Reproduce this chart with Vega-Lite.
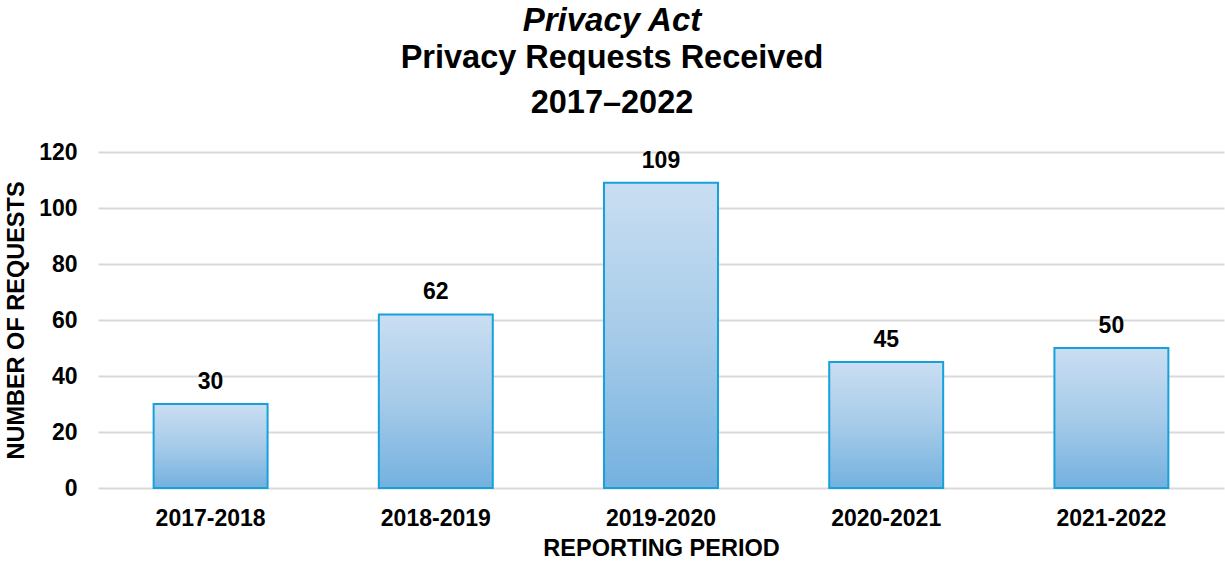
{
  "$schema": "https://vega.github.io/schema/vega-lite/v6.json",
  "width": 1126,
  "height": 336,
  "autosize": {"type": "none"},
  "padding": {"left": 98, "top": 152, "right": 1, "bottom": 73},
  "background": "white",
  "title": {
    "text": "Privacy Act",
    "subtitle": ["Privacy Requests Received", "2017–2022"],
    "anchor": "middle",
    "dx": -49,
    "font": "Liberation Sans",
    "fontSize": 33,
    "fontStyle": "italic",
    "fontWeight": "bold",
    "color": "black",
    "subtitleFont": "Liberation Sans",
    "subtitleFontSize": 32.5,
    "subtitleFontWeight": "bold",
    "subtitleColor": "black",
    "subtitleLineHeight": 45,
    "subtitlePadding": 4,
    "offset": 22
  },
  "data": {
    "values": [
      {"period": "2017-2018", "requests": 30},
      {"period": "2018-2019", "requests": 62},
      {"period": "2019-2020", "requests": 109},
      {"period": "2020-2021", "requests": 45},
      {"period": "2021-2022", "requests": 50}
    ]
  },
  "encoding": {
    "x": {
      "field": "period",
      "type": "nominal",
      "sort": null,
      "scale": {"paddingInner": 0.494, "paddingOuter": 0.247},
      "axis": {
        "title": "REPORTING PERIOD",
        "labelAngle": 0,
        "domain": false,
        "ticks": false,
        "tickSize": 0,
        "labelPadding": 19,
        "labelFont": "Liberation Sans",
        "labelFontSize": 23,
        "labelFontWeight": "bold",
        "labelColor": "black",
        "titleFont": "Liberation Sans",
        "titleFontSize": 23.5,
        "titleFontWeight": "bold",
        "titleColor": "black",
        "titlePadding": 6
      }
    },
    "y": {
      "field": "requests",
      "type": "quantitative",
      "scale": {"domain": [0, 120]},
      "axis": {
        "title": "NUMBER OF REQUESTS",
        "values": [0, 20, 40, 60, 80, 100, 120],
        "domain": false,
        "ticks": false,
        "tickSize": 0,
        "grid": true,
        "gridColor": "#d9d9d9",
        "gridWidth": 2,
        "labelPadding": 21,
        "labelFont": "Liberation Sans",
        "labelFontSize": 23,
        "labelFontWeight": "bold",
        "labelColor": "black",
        "titleFont": "Liberation Sans",
        "titleFontSize": 23.5,
        "titleFontWeight": "bold",
        "titleColor": "black",
        "titlePadding": 10
      }
    }
  },
  "layer": [
    {
      "mark": {
        "type": "bar",
        "stroke": "#16a0dc",
        "strokeWidth": 2,
        "fill": {
          "gradient": "linear",
          "x1": 0, "y1": 0, "x2": 0, "y2": 1,
          "stops": [
            {"offset": 0, "color": "#cadef2"},
            {"offset": 0.5, "color": "#a6cbe9"},
            {"offset": 1, "color": "#74b1df"}
          ]
        }
      }
    },
    {
      "mark": {
        "type": "text",
        "baseline": "alphabetic",
        "dy": -15,
        "font": "Liberation Sans",
        "fontSize": 23,
        "fontWeight": "bold",
        "color": "black"
      },
      "encoding": {"text": {"field": "requests", "type": "quantitative"}}
    }
  ],
  "config": {"view": {"stroke": null}}
}
